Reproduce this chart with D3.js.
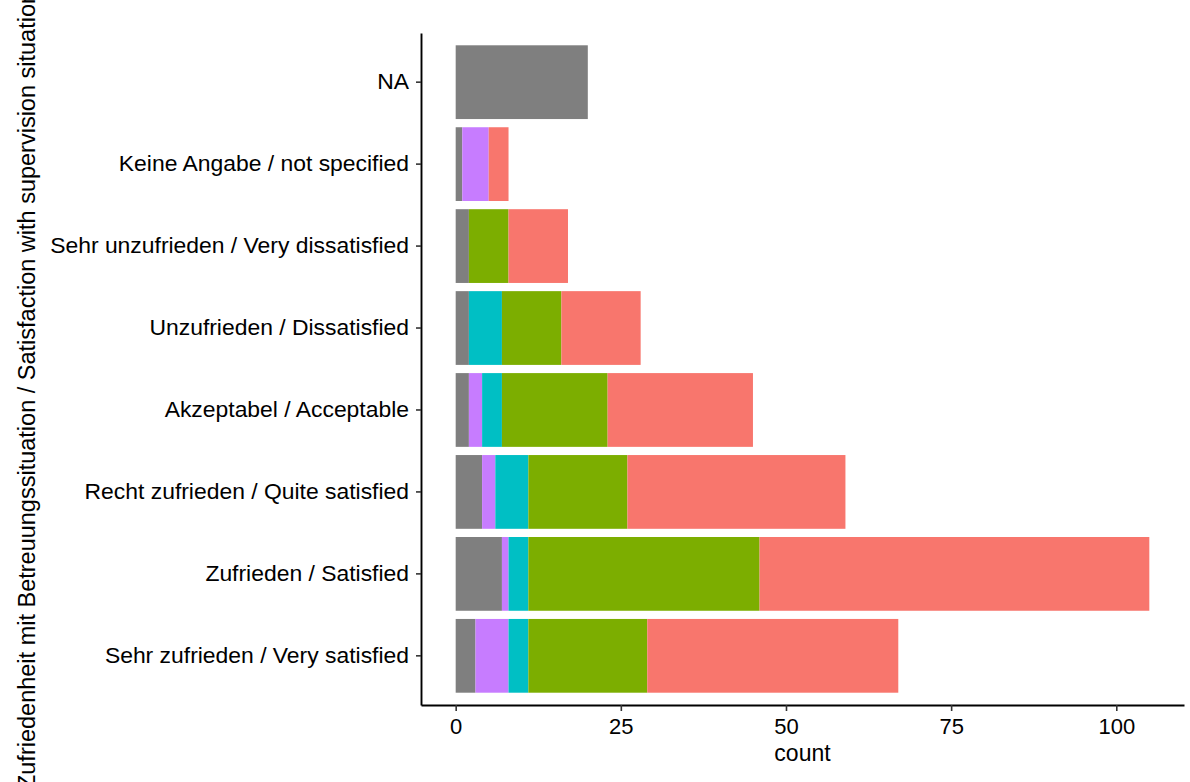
<!DOCTYPE html>
<html>
<head>
<meta charset="utf-8">
<script src="https://cdn.jsdelivr.net/npm/d3@7"></script>
<style>
  body { margin: 0; background: #fff; }
  svg { display: block; font-family: "Liberation Sans", Arial, sans-serif; }
</style>
</head>
<body>
<svg width="1190" height="782"></svg>
<script>
//categories, top to bottom
var categories = [
    "NA",
    "Keine Angabe / not specified",
    "Sehr unzufrieden / Very dissatisfied",
    "Unzufrieden / Dissatisfied",
    "Akzeptabel / Acceptable",
    "Recht zufrieden / Quite satisfied",
    "Zufrieden / Satisfied",
    "Sehr zufrieden / Very satisfied"
];

//fill groups, in stacking order left to right
var groups = ["NA", "group4", "group3", "group2", "group1"];
var groupColors = ["#7F7F7F", "#C77CFF", "#00BFC4", "#7CAE00", "#F8766D"];

//counts per category for each group
var countsNA     = [20, 1, 2, 2, 2, 4, 7, 3];
var countsGroup4 = [0, 4, 0, 0, 2, 2, 1, 5];
var countsGroup3 = [0, 0, 0, 5, 3, 5, 3, 3];
var countsGroup2 = [0, 0, 6, 9, 16, 15, 35, 18];
var countsGroup1 = [0, 3, 9, 12, 22, 33, 59, 38];

var xTicks = [0, 25, 50, 75, 100];
var xTitle = "count";
var yTitle = "Zufriedenheit mit Betreuungssituation / Satisfaction with supervision situation";

//build table for d3.stack
var series = [countsNA, countsGroup4, countsGroup3, countsGroup2, countsGroup1];
var table = categories.map(function (c, i) {
    var row = { category: c };
    groups.forEach(function (g, j) { row[g] = series[j][i]; });
    return row;
});

var svg = d3.select("svg");

var panelLeft = 421, panelRight = 1184, panelTop = 33, panelBottom = 705;

var maxTotal = d3.max(table, function (d) {
    return d3.sum(groups, function (g) { return d[g]; });
});
var pad = maxTotal * 0.05;

var x = d3.scaleLinear()
    .domain([-pad, maxTotal + pad])
    .range([panelLeft, panelRight]);

var y = d3.scaleBand()
    .domain(categories)
    .range([panelTop, panelBottom])
    .paddingInner(0.1)
    .paddingOuter(0.15);

var stacked = d3.stack().keys(groups)(table);

//bars
svg.append("g")
    .selectAll("g")
    .data(stacked)
    .enter()
    .append("g")
    .attr("fill", function (d, i) { return groupColors[i]; })
    .selectAll("rect")
    .data(function (d) { return d; })
    .enter()
    .append("rect")
    .attr("x", function (d) { return x(d[0]); })
    .attr("width", function (d) { return x(d[1]) - x(d[0]); })
    .attr("y", function (d) { return y(d.data.category); })
    .attr("height", y.bandwidth());

//x axis
var xAxis = svg.append("g")
    .attr("transform", "translate(0," + panelBottom + ")")
    .call(d3.axisBottom(x).tickValues(xTicks).tickSizeInner(6).tickSizeOuter(0).tickPadding(7));

//y axis
var yAxis = svg.append("g")
    .attr("transform", "translate(" + panelLeft + ",0)")
    .call(d3.axisLeft(y).tickSizeInner(5).tickSizeOuter(0).tickPadding(7));

[xAxis, yAxis].forEach(function (a) {
    a.select(".domain").attr("stroke", "#000").attr("stroke-width", 1.9);
    a.selectAll(".tick line").attr("stroke", "#333").attr("stroke-width", 1.6);
    a.selectAll(".tick text")
        .attr("fill", "#000")
        .style("font-size", "22px")
        .style("font-family", "Liberation Sans, Arial, sans-serif");
});
yAxis.selectAll(".tick text").style("font-size", "22.9px");

//x title
svg.append("text")
    .attr("x", (panelLeft + panelRight) / 2)
    .attr("y", 761)
    .attr("text-anchor", "middle")
    .style("font-size", "23px")
    .text(xTitle);

//y title
svg.append("text")
    .attr("transform", "translate(35," + 390 + ") rotate(-90)")
    .attr("text-anchor", "middle")
    .style("font-size", "23.5px")
    .text(yTitle);
</script>
</body>
</html>
